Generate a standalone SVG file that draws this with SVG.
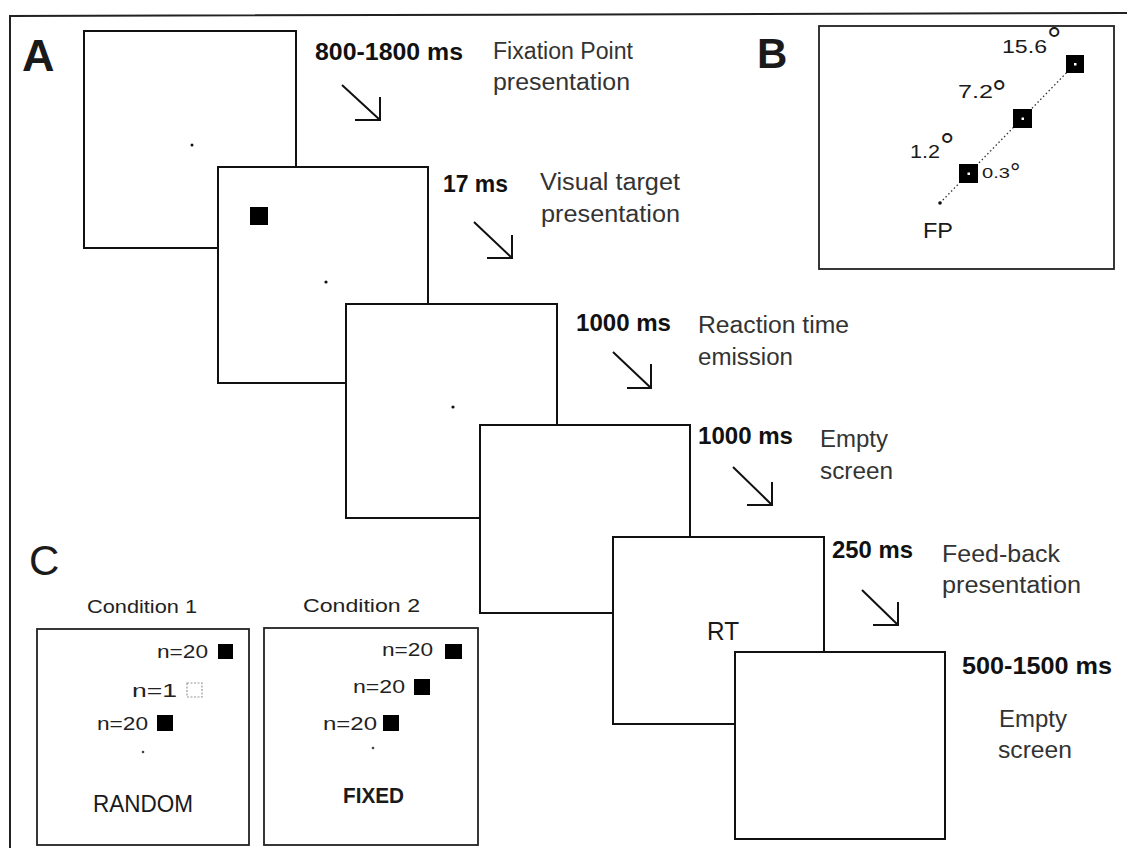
<svg xmlns="http://www.w3.org/2000/svg" width="1127" height="848" viewBox="0 0 1127 848">
<style>
.scr{fill:#fff;stroke:#111;stroke-width:2}
.box{fill:#fff;stroke:#222;stroke-width:1.8}
.t{font-family:"Liberation Sans",Arial,sans-serif;fill:#1a1a1a}
.tb{font-family:"Liberation Sans",Arial,sans-serif;font-weight:bold;fill:#111;font-size:24px}
.lbl{font-family:"Liberation Sans",Arial,sans-serif;fill:#333;font-size:23px}
.arr{fill:none;stroke:#111;stroke-width:2}
.n{font-family:"Liberation Sans",Arial,sans-serif;fill:#222;font-size:18px}
.c{font-family:"Liberation Sans",Arial,sans-serif;fill:#222;font-size:19px}
</style>
<rect width="1127" height="848" fill="#fff"/>
<g id="frame">
<path d="M10,848 L10,16 L1127,13" fill="none" stroke="#222" stroke-width="2"/>
</g>
<g id="panel-labels">
<text class="t" x="22" y="71" font-size="45" font-weight="bold">A</text>
<text class="t" x="757" y="68" font-size="42" font-weight="bold">B</text>
<text class="t" x="29" y="575" font-size="42">C</text>
</g>
<g id="screen1">
<rect class="scr" x="84" y="31" width="212" height="217"/>
<circle cx="192" cy="145" r="1.5" fill="#111"/>
</g>
<g id="screen2">
<rect class="scr" x="218" y="167" width="210" height="216"/>
<rect x="250" y="207" width="18" height="18" fill="#000"/>
<circle cx="326" cy="282" r="1.6" fill="#111"/>
</g>
<g id="screen3">
<rect class="scr" x="346" y="304" width="211" height="214"/>
<circle cx="453" cy="407" r="1.6" fill="#111"/>
</g>
<g id="screen4">
<rect class="scr" x="480" y="425" width="210" height="188"/>
</g>
<g id="screen5">
<rect class="scr" x="613" y="537" width="211" height="187"/>
<text class="t" x="707" y="640" font-size="25" textLength="32" lengthAdjust="spacingAndGlyphs">RT</text>
</g>
<g id="screen6">
<rect class="scr" x="735" y="652" width="210" height="187"/>
</g>
<g id="labels">
<text class="tb" x="315" y="60" textLength="148" lengthAdjust="spacingAndGlyphs">800-1800 ms</text>
<text class="lbl" x="493" y="59" textLength="140" lengthAdjust="spacingAndGlyphs">Fixation Point</text>
<text class="lbl" x="493" y="90" textLength="137" lengthAdjust="spacingAndGlyphs">presentation</text>
<text class="tb" x="443" y="192" textLength="65" lengthAdjust="spacingAndGlyphs">17 ms</text>
<text class="lbl" x="540" y="190" textLength="140" lengthAdjust="spacingAndGlyphs">Visual target</text>
<text class="lbl" x="541" y="222" textLength="139" lengthAdjust="spacingAndGlyphs">presentation</text>
<text class="tb" x="576" y="331" textLength="95" lengthAdjust="spacingAndGlyphs">1000 ms</text>
<text class="lbl" x="698" y="333" textLength="151" lengthAdjust="spacingAndGlyphs">Reaction time</text>
<text class="lbl" x="698" y="365" textLength="95" lengthAdjust="spacingAndGlyphs">emission</text>
<text class="tb" x="698" y="444" textLength="95" lengthAdjust="spacingAndGlyphs">1000 ms</text>
<text class="lbl" x="820" y="447" textLength="68" lengthAdjust="spacingAndGlyphs">Empty</text>
<text class="lbl" x="820" y="479" textLength="73" lengthAdjust="spacingAndGlyphs">screen</text>
<text class="tb" x="832" y="558" textLength="81" lengthAdjust="spacingAndGlyphs">250 ms</text>
<text class="lbl" x="942" y="562" textLength="118" lengthAdjust="spacingAndGlyphs">Feed-back</text>
<text class="lbl" x="942" y="593" textLength="139" lengthAdjust="spacingAndGlyphs">presentation</text>
<text class="tb" x="962" y="674" textLength="150" lengthAdjust="spacingAndGlyphs">500-1500 ms</text>
<text class="lbl" x="999" y="727" textLength="68" lengthAdjust="spacingAndGlyphs">Empty</text>
<text class="lbl" x="998" y="758" textLength="74" lengthAdjust="spacingAndGlyphs">screen</text>
</g>
<g id="connectors">
<path class="arr" d="M342,85 L380,120 M380,97 L380,120 L355,120"/>
<path class="arr" d="M474,222 L512,258 M512,235 L512,258 L487,258"/>
<path class="arr" d="M613,352 L651,388 M651,364 L651,388 L627,388"/>
<path class="arr" d="M733,467 L772,505 M772,482 L772,505 L747,505"/>
<path class="arr" d="M862,590 L898,625 M898,602 L898,625 L873,625"/>
</g>
<g id="panelB">
<rect class="box" x="819" y="26" width="295" height="243"/>
<line x1="940" y1="203" x2="1075" y2="64" stroke="#333" stroke-width="1.3" stroke-dasharray="1.5 2.5"/>
<circle cx="940" cy="203" r="1.8" fill="#111"/>
<rect x="959" y="164" width="19" height="19" fill="#000"/>
<rect x="967.5" y="172.5" width="2.5" height="2.5" fill="#fff"/>
<rect x="1013" y="109" width="19" height="19" fill="#000"/>
<rect x="1021.5" y="117.5" width="2.5" height="2.5" fill="#fff"/>
<rect x="1066" y="55" width="18" height="18" fill="#000"/>
<rect x="1074" y="63" width="2.5" height="2.5" fill="#fff"/>
<text class="t" font-size="18"><tspan x="1002" y="53" textLength="45" lengthAdjust="spacingAndGlyphs">15.6</tspan><tspan x="1047" y="53" font-size="36">°</tspan></text>
<text class="t" font-size="19"><tspan x="958" y="98" textLength="35" lengthAdjust="spacingAndGlyphs">7.2</tspan><tspan x="992" y="106" font-size="36">°</tspan></text>
<text class="t" font-size="19"><tspan x="910" y="158" textLength="30" lengthAdjust="spacingAndGlyphs">1.2</tspan><tspan x="940" y="159" font-size="36">°</tspan></text>
<text class="t" font-size="14"><tspan x="982" y="178" textLength="28" lengthAdjust="spacingAndGlyphs">0.3</tspan><tspan x="1010" y="181" font-size="26">°</tspan></text>
<text class="t" x="923" y="238" font-size="22" textLength="30" lengthAdjust="spacingAndGlyphs">FP</text>
</g>
<g id="condition1">
<text class="c" x="87" y="613" textLength="110" lengthAdjust="spacingAndGlyphs">Condition 1</text>
<rect class="box" x="37" y="629" width="212" height="216"/>
<text class="n" x="157" y="658" textLength="51" lengthAdjust="spacingAndGlyphs">n=20</text>
<rect x="218" y="644" width="15" height="15" fill="#000"/>
<text class="n" x="132" y="697" textLength="45" lengthAdjust="spacingAndGlyphs">n=1</text>
<rect x="187" y="683" width="15" height="14" fill="none" stroke="#999" stroke-width="1.2" stroke-dasharray="2 1.5"/>
<text class="n" x="97" y="730" textLength="51" lengthAdjust="spacingAndGlyphs">n=20</text>
<rect x="157" y="715" width="16" height="16" fill="#000"/>
<circle cx="143" cy="752" r="1.3" fill="#444"/>
<text class="t" x="93" y="812" font-size="24" textLength="100" lengthAdjust="spacingAndGlyphs">RANDOM</text>
</g>
<g id="condition2">
<text class="c" x="303" y="612" textLength="117" lengthAdjust="spacingAndGlyphs">Condition 2</text>
<rect class="box" x="264" y="628" width="214" height="217"/>
<text class="n" x="382" y="656" textLength="51" lengthAdjust="spacingAndGlyphs">n=20</text>
<rect x="445" y="644" width="17" height="15" fill="#000"/>
<text class="n" x="353" y="693" textLength="52" lengthAdjust="spacingAndGlyphs">n=20</text>
<rect x="414" y="679" width="16" height="16" fill="#000"/>
<text class="n" x="323" y="730" textLength="54" lengthAdjust="spacingAndGlyphs">n=20</text>
<rect x="383" y="715" width="16" height="16" fill="#000"/>
<circle cx="373" cy="748" r="1.3" fill="#444"/>
<text class="t" x="343" y="803" font-size="22" font-weight="bold" textLength="61" lengthAdjust="spacingAndGlyphs">FIXED</text>
</g>
</svg>
